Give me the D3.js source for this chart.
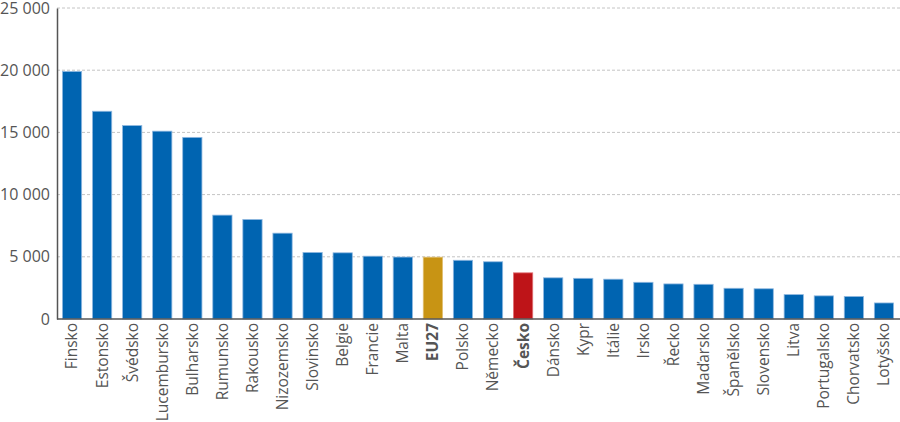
<!DOCTYPE html>
<html>
<head>
<meta charset="utf-8">
<script src="https://cdn.jsdelivr.net/npm/d3@7"></script>
<style>
  body { margin: 0; background: #fff; }
  svg text { font-family: 'Open Sans', sans-serif; fill: #555; }
</style>
</head>
<body>
<div id="chart"></div>
<script>
const countries = ['Finsko', 'Estonsko', 'Švédsko', 'Lucembursko', 'Bulharsko', 'Rumunsko',
  'Rakousko', 'Nizozemsko', 'Slovinsko', 'Belgie', 'Francie', 'Malta', 'EU27', 'Polsko',
  'Německo', 'Česko', 'Dánsko', 'Kypr', 'Itálie', 'Irsko', 'Řecko', 'Maďarsko', 'Španělsko',
  'Slovensko', 'Litva', 'Portugalsko', 'Chorvatsko', 'Lotyšsko'];
const values = [19900, 16700, 15550, 15100, 14600, 8350, 8000, 6900, 5350, 5320, 5050, 4980,
  4970, 4720, 4600, 3710, 3310, 3270, 3200, 2950, 2820, 2790, 2470, 2430, 1960, 1860, 1810, 1290];
const yTicks = [0, 5000, 10000, 15000, 20000, 25000];

const width = 900;
const height = 422;
const margin = { top: 8, right: 1, bottom: 103, left: 57 };

const svg = d3.select('#chart')
  .append('svg')
  .attr('width', width)
  .attr('height', height);

const x = d3.scaleBand()
  .domain(countries)
  .range([margin.left, width - margin.right])
  .paddingInner(0.36)
  .paddingOuter(0.18);

const y = d3.scaleLinear()
  .domain([0, 25000])
  .range([height - margin.bottom, margin.top]);

const fmt = (d) => d3.format(',')(d).replace(/,/g, '\u00a0');

// gridlines
svg.append('g')
  .selectAll('line')
  .data(yTicks.filter((d) => d > 0))
  .join('line')
  .attr('x1', margin.left)
  .attr('x2', width)
  .attr('y1', (d) => y(d))
  .attr('y2', (d) => y(d))
  .attr('stroke', '#c4c4c4')
  .attr('stroke-width', 1)
  .attr('stroke-dasharray', '3,2');

// bars
function barColor(name) {
  if (name === 'EU27') return ['#c89414', '#e0bf70'];
  if (name === 'Česko') return ['#be1418', '#e07075'];
  return ['#0064b1', '#8fb8e0'];
}

svg.append('g')
  .selectAll('rect')
  .data(countries)
  .join('rect')
  .attr('x', (d) => x(d))
  .attr('width', x.bandwidth())
  .attr('y', (d, i) => y(values[i]))
  .attr('height', (d, i) => y(0) - y(values[i]))
  .attr('fill', (d) => barColor(d)[0])
  .attr('stroke', (d) => barColor(d)[1])
  .attr('stroke-width', 0.8);

// y axis
const yAxis = svg.append('g')
  .attr('transform', `translate(${margin.left},0)`)
  .call(d3.axisLeft(y).tickValues(yTicks).tickFormat(fmt).tickSize(0).tickPadding(7));
yAxis.select('.domain').attr('stroke', '#555').attr('stroke-width', 1.5);
yAxis.selectAll('text').style('font-size', '16px').attr('fill', '#555');

// x axis
const xAxis = svg.append('g')
  .attr('transform', `translate(0,${y(0)})`)
  .call(d3.axisBottom(x).tickSize(0).tickPadding(0));
xAxis.select('.domain')
  .attr('d', `M${margin.left},0H${width}`)
  .attr('stroke', '#555')
  .attr('stroke-width', 1.5);
xAxis.selectAll('text')
  .attr('transform', 'rotate(-90)')
  .attr('x', -4)
  .attr('y', 0)
  .attr('dy', '0.35em')
  .style('text-anchor', 'end')
  .style('font-size', '15.5px')
  .style('font-weight', (d) => (d === 'EU27' || d === 'Česko') ? 'bold' : 'normal')
  .attr('fill', '#555');
</script>
</body>
</html>
